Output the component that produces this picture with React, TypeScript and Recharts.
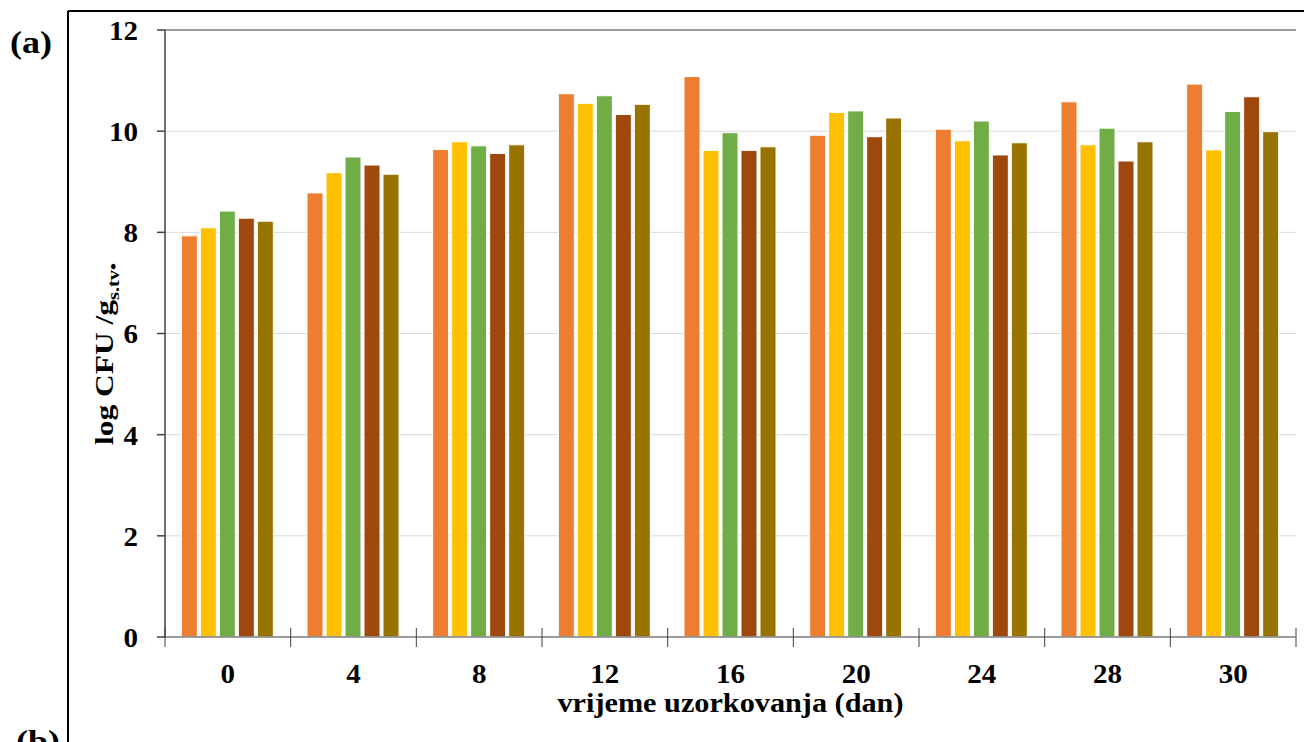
import React from 'react';
import { BarChart, Bar, XAxis, YAxis, CartesianGrid, ReferenceLine } from 'recharts';

// sampling days (dan)
const days = ['0', '4', '8', '12', '16', '20', '24', '28', '30'];

// log CFU values per sample series
const orangeVals = [7.93, 8.78, 9.64, 10.74, 11.08, 9.92, 10.04, 10.58, 10.93];
const yellowVals = [8.09, 9.18, 9.79, 10.55, 9.62, 10.37, 9.81, 9.73, 9.63];
const greenVals = [8.42, 9.49, 9.71, 10.7, 9.97, 10.4, 10.2, 10.06, 10.39];
const brownVals = [8.28, 9.33, 9.56, 10.33, 9.62, 9.89, 9.53, 9.41, 10.68];
const oliveVals = [8.22, 9.15, 9.73, 10.53, 9.69, 10.26, 9.77, 9.79, 9.99];

const yTicks = [0, 2, 4, 6, 8, 10, 12];

const seriesKeys = ['s1', 's2', 's3', 's4', 's5'];
const seriesColors = ['#ED7D31', '#FFC000', '#70AD47', '#9E480E', '#997300'];

const data = days.map((day, i) => ({
  day,
  s1: orangeVals[i],
  s2: yellowVals[i],
  s3: greenVals[i],
  s4: brownVals[i],
  s5: oliveVals[i],
}));

const W = 1304;
const H = 742;
const LEFT = 165;
const RIGHT_M = 8;
const PLOT_W = W - LEFT - RIGHT_M;
const STEP = PLOT_W / days.length;
const FONT = '"Liberation Serif", "Times New Roman", serif';
const DIGIT_W = 14.5; // the source text is a bit wider than the font
const TICK_FS = 28;

const XTick = (props: any) => {
  const { x, y, payload, index } = props;
  const left = x - STEP / 2;
  const label = String(payload.value);
  return (
    <g>
      <line x1={left} y1={y - 9} x2={left} y2={y + 10} stroke="#404040" strokeWidth={1} />
      {index === days.length - 1 && (
        <line x1={left + STEP} y1={y - 9} x2={left + STEP} y2={y + 10} stroke="#808080" strokeWidth={1.5} />
      )}
      <text
        x={x}
        y={y + 46}
        textAnchor="middle"
        textLength={label.length * DIGIT_W}
        lengthAdjust="spacingAndGlyphs"
        fontFamily={FONT}
        fontWeight="bold"
        fontSize={TICK_FS}
        fill="#000"
      >
        {label}
      </text>
    </g>
  );
};

const YTick = (props: any) => {
  const { x, y, payload } = props;
  const label = String(payload.value);
  return (
    <text
      x={x}
      y={y}
      dy="0.355em"
      textAnchor="end"
      textLength={label.length * DIGIT_W}
      lengthAdjust="spacingAndGlyphs"
      fontFamily={FONT}
      fontWeight="bold"
      fontSize={TICK_FS}
      fill="#000"
    >
      {label}
    </text>
  );
};

const YLabel = () => (
  <g transform="rotate(-90 113 445)" fontFamily={FONT} fontWeight="bold" fill="#000">
    <text x={113} y={445} fontSize={25} textLength={145} lengthAdjust="spacingAndGlyphs">
      log CFU /g
    </text>
    <text x={258} y={451} fontSize={17} textLength={37} lengthAdjust="spacingAndGlyphs">
      s.tv•
    </text>
  </g>
);

const XLabel = (props: any) => {
  const vb = props.viewBox || { x: LEFT, width: PLOT_W };
  return (
    <text
      x={vb.x + vb.width / 2}
      y={712}
      textAnchor="middle"
      textLength={346}
      lengthAdjust="spacingAndGlyphs"
      fontFamily={FONT}
      fontWeight="bold"
      fontSize={28}
      fill="#000"
    >
      vrijeme uzorkovanja (dan)
    </text>
  );
};

export default function App() {
  return (
    <div style={{ position: 'absolute', left: 0, top: 0, width: W, height: H, background: '#fff', overflow: 'hidden' }}>
      <svg width={W} height={H} style={{ position: 'absolute', left: 0, top: 0 }}>
        <line x1={68} y1={11} x2={W} y2={11} stroke="#000" strokeWidth={2} />
        <line x1={68} y1={11} x2={68} y2={H} stroke="#000" strokeWidth={2} />
        <text x={10} y={53} textLength={42} lengthAdjust="spacingAndGlyphs" fontFamily={FONT} fontWeight="bold" fontSize={31}>
          (a)
        </text>
        <text x={16} y={752} textLength={44} lengthAdjust="spacingAndGlyphs" fontFamily={FONT} fontWeight="bold" fontSize={31}>
          (b)
        </text>
      </svg>
      <div style={{ position: 'absolute', left: 0, top: 0 }}>
        <BarChart
          width={W}
          height={H}
          data={data}
          margin={{ top: 30, right: RIGHT_M, bottom: 0, left: 0 }}
          barCategoryGap="13%"
          barGap={3}
        >
          <CartesianGrid vertical={false} stroke="#d9d9d9" strokeWidth={1} />
          <XAxis
            dataKey="day"
            height={105}
            tickLine={false}
            tickSize={0}
            tickMargin={0}
            axisLine={{ stroke: '#808080', strokeWidth: 1.5 }}
            tick={<XTick />}
            interval={0}
            label={<XLabel />}
          />
          <YAxis
            width={LEFT}
            domain={[0, 12]}
            ticks={yTicks}
            interval={0}
            tickSize={8}
            tickMargin={19}
            tickLine={{ stroke: '#404040', strokeWidth: 1.5 }}
            axisLine={{ stroke: '#404040', strokeWidth: 1.5 }}
            tick={<YTick />}
            label={<YLabel />}
          />
          <YAxis
            yAxisId="frame"
            orientation="right"
            width={0}
            domain={[0, 12]}
            tick={false}
            tickLine={false}
            axisLine={{ stroke: '#808080', strokeWidth: 2 }}
          />
          <ReferenceLine y={12} stroke="#808080" strokeWidth={1.5} />
          {seriesKeys.map((key, i) => (
            <Bar
              key={key}
              dataKey={key}
              fill={seriesColors[i]}
              stroke="#ffffff"
              strokeWidth={1}
              isAnimationActive={false}
            />
          ))}
        </BarChart>
      </div>
    </div>
  );
}
